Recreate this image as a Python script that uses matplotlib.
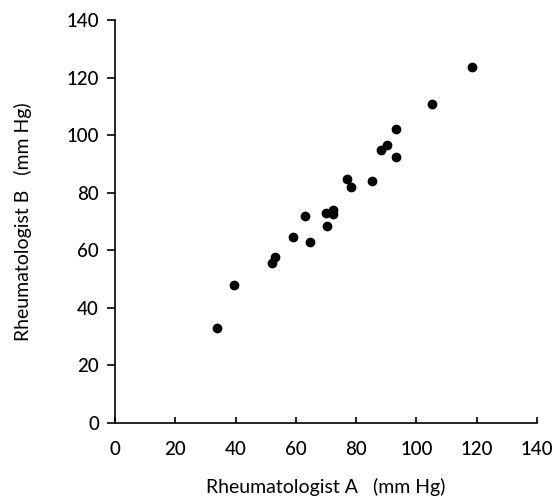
import matplotlib
matplotlib.use("Agg")
import matplotlib.pyplot as plt

# blood pressure readings (mm Hg)
rheum_a = [33.7, 39.6, 52.0, 53.2, 58.9, 64.8, 62.9, 70.3, 69.9, 72.2,
           72.2, 77.1, 78.2, 85.4, 88.4, 90.3, 93.3, 93.1, 105.1, 118.4]
rheum_b = [32.9, 47.8, 55.6, 57.8, 64.6, 62.8, 72.0, 68.5, 72.9, 73.9,
           72.5, 84.8, 81.9, 84.0, 94.7, 96.6, 102.0, 92.5, 110.9, 123.7]
ticks = [0, 20, 40, 60, 80, 100, 120, 140]

plt.rcParams['font.family'] = ['Lato', 'DejaVu Sans']
plt.rcParams['font.weight'] = 'medium'

fig = plt.figure(figsize=(5.54, 5.03), dpi=100)
ax = fig.add_axes([0.2076, 0.159, 0.7617, 0.801])

ax.scatter(rheum_a, rheum_b, s=36, color='black', zorder=3)

ax.set_xlim(0, 140)
ax.set_ylim(0, 140)
ax.set_xticks(ticks)
ax.set_yticks(ticks)

for side in ['top', 'right']:
    ax.spines[side].set_visible(False)
for side in ['left', 'bottom']:
    ax.spines[side].set_linewidth(1.2)

ax.tick_params(axis='x', direction='in', length=4, width=1.2, pad=13, labelsize=13.5)
ax.tick_params(axis='y', direction='out', length=5.5, width=1.2, pad=6, labelsize=13.5)

ax.set_xlabel("Rheumatologist A   (mm Hg)", fontsize=14, labelpad=14)
ax.set_ylabel("Rheumatologist B   (mm Hg)", fontsize=14, labelpad=25)

fig.savefig("out.png", dpi=100)
